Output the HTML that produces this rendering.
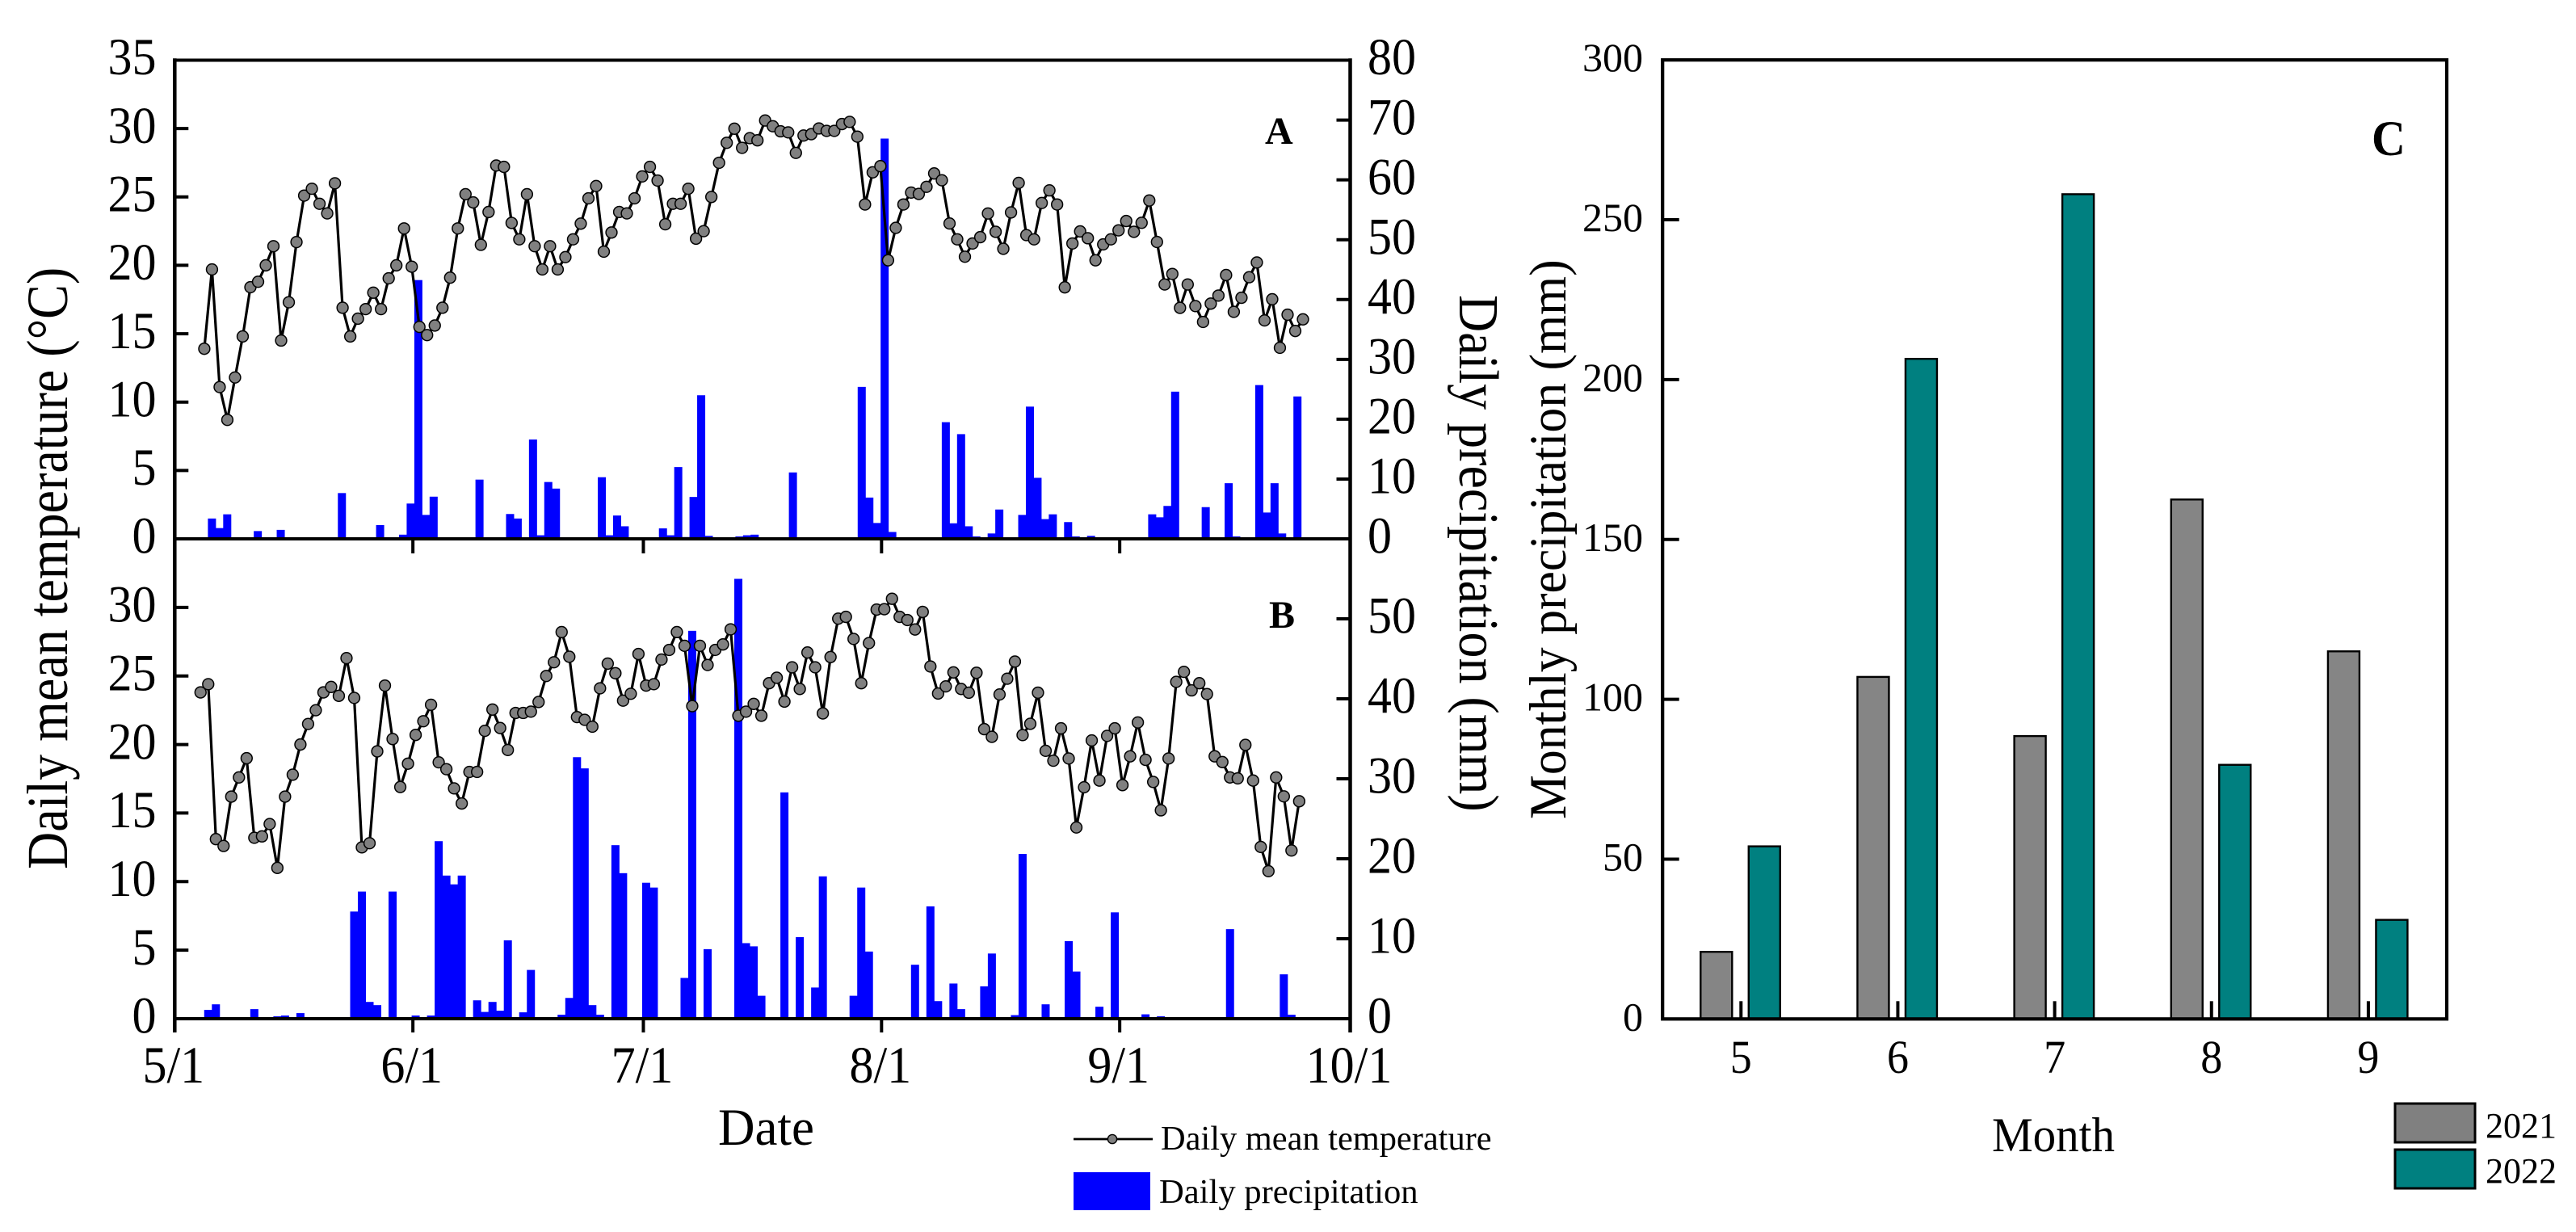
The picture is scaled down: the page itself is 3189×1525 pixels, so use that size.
<!DOCTYPE html>
<html lang="en">
<head>
<meta charset="utf-8">
<title>Daily temperature and precipitation</title>
<style>
html,body{margin:0;padding:0;background:#fff;}
svg{display:block;}
text{font-family:"Liberation Serif","Times New Roman",serif;fill:#000;}
</style>
</head>
<body>
<svg id="chart" xmlns="http://www.w3.org/2000/svg" width="3189" height="1525" viewBox="0 0 3189 1525">
  <rect x="0" y="0" width="3189" height="1525" fill="#ffffff"/>
  <g id="layer-bars"></g>
  <g id="layer-lines"></g>
  <g id="layer-axes"></g>
  <g id="layer-labels"></g>

  <text transform="translate(83,1076) rotate(-90) scale(1,1.12)" font-size="64">Daily mean temperature (°C)</text>
  <text transform="translate(1807,365) rotate(90) scale(1,1.1)" font-size="64">Daily precipitation (mm)</text>
  <text transform="translate(889,1417) scale(1,1.03)" font-size="63">Date</text>
  <text x="1566" y="178" font-size="48" font-weight="bold">A</text>
  <text x="1571" y="777" font-size="48" font-weight="bold">B</text>

  <line x1="1329" y1="1410" x2="1427" y2="1410" stroke="#000" stroke-width="2.8"/>
  <circle cx="1377" cy="1410" r="5.6" fill="#808080" stroke="#000" stroke-width="1.4"/>
  <text x="1437" y="1423" font-size="42.4">Daily mean temperature</text>
  <rect x="1329" y="1451" width="95" height="47" fill="#0000ff"/>
  <text x="1435" y="1489" font-size="42.6">Daily precipitation</text>

  <text transform="translate(1938,1014) rotate(-90) scale(1,1.05)" font-size="61.75">Monthly precipitation (mm)</text>
  <text transform="translate(2466,1425) scale(1,1.05)" font-size="57">Month</text>
  <text transform="translate(2936,192) scale(1,1.05)" font-size="58" font-weight="bold">C</text>

  <rect x="2965" y="1366" width="99" height="48" fill="#808080" stroke="#000" stroke-width="3"/>
  <text x="3077" y="1408" font-size="44">2021</text>
  <rect x="2965" y="1423" width="99" height="48" fill="#008080" stroke="#000" stroke-width="3"/>
  <text x="3077" y="1464" font-size="44">2022</text>
</svg>

<script>
// ---------- chart data ----------
const tempA = [13.9,19.7,11.1,8.7,11.8,14.8,18.4,18.8,20.0,21.4,14.5,17.3,21.7,25.1,25.6,24.5,23.8,26.0,16.9,14.8,16.1,16.8,18.0,16.8,19.05,20.0,22.7,19.9,15.5,14.9,15.6,16.9,19.1,22.7,25.2,24.6,21.5,23.9,27.3,27.2,23.1,21.9,25.2,21.4,19.7,21.4,19.7,20.6,21.9,23.05,24.9,25.8,21.0,22.4,23.9,23.8,24.9,26.5,27.2,26.2,23.0,24.5,24.5,25.6,21.95,22.5,25.0,27.5,28.96,29.99,28.59,29.3,29.14,30.59,30.17,29.8,29.72,28.22,29.49,29.59,30.01,29.83,29.83,30.33,30.49,29.41,24.45,26.8,27.25,20.37,22.74,24.45,25.32,25.22,25.74,26.72,26.22,23.06,21.9,20.63,21.6,22.06,23.79,22.45,21.21,23.87,26.03,22.21,21.9,24.56,25.48,24.45,18.39,21.6,22.48,21.98,20.37,21.53,21.9,22.56,23.24,22.45,23.11,24.74,21.71,18.6,19.37,16.89,18.6,17.02,15.86,17.2,17.79,19.29,16.6,17.63,19.13,20.21,15.97,17.52,13.97,16.39,15.2,16.05];
const rainDayIndexA = [1,2,3,7,10,18,23,26,27,28,29,30,36,40,41,43,44,45,46,52,53,54,55,60,61,62,63,64,65,66,70,71,72,77,86,87,88,89,90,97,98,99,100,101,103,104,107,108,109,110,111,113,114,116,124,125,126,127,131,134,135,138,139,140,141,143];
const rainA = [3.4,1.8,4.1,1.3,1.5,7.65,2.3,0.7,5.9,43.25,4.0,7.05,9.9,4.15,3.4,16.6,0.6,9.5,8.4,10.3,0.6,3.9,2.1,1.75,0.6,12.0,0.3,7.0,24.0,0.5,0.4,0.6,0.7,11.1,25.4,6.9,2.65,66.9,1.15,19.5,2.6,17.5,2.1,0.4,0.9,4.9,4.0,22.1,10.2,3.3,4.1,2.8,0.4,0.5,4.1,3.6,5.5,24.6,5.3,9.3,0.4,25.7,4.4,9.3,0.9,23.8];

const tempB = [23.8,24.4,13.1,12.6,16.2,17.6,19.0,13.2,13.3,14.2,11.0,16.2,17.8,20.0,21.5,22.5,23.8,24.2,23.55,26.3,23.4,12.5,12.8,19.5,24.3,20.4,16.9,18.6,20.7,21.7,22.9,18.7,18.2,16.8,15.7,18.0,18.0,21.0,22.55,21.2,19.6,22.3,22.3,22.4,23.1,25.0,26.0,28.2,26.4,22.0,21.8,21.3,24.1,25.9,25.2,23.2,23.7,26.6,24.3,24.4,26.2,26.9,28.2,27.2,22.8,27.2,25.8,26.9,27.3,28.4,22.1,22.4,22.96,22.1,24.47,24.87,23.13,25.63,24.05,26.71,25.63,22.27,26.38,29.18,29.31,27.7,24.47,27.4,29.84,29.87,30.63,29.31,29.08,28.39,29.67,25.69,23.72,24.24,25.26,24.05,23.78,25.23,21.12,20.56,23.65,24.8,26.05,20.69,21.51,23.78,19.54,18.82,21.18,18.98,13.95,16.88,20.3,17.37,20.63,21.18,17.04,19.14,21.61,18.88,17.27,15.2,18.98,24.57,25.3,23.95,24.47,23.68,19.14,18.72,17.6,17.53,19.97,17.37,12.53,10.76,17.6,16.22,12.27,15.86];
const rainDayIndexB = [1,2,7,8,10,11,13,20,21,22,23,25,28,30,31,32,33,34,35,36,37,38,39,40,42,43,47,48,49,50,51,52,53,54,55,56,58,59,63,64,66,70,71,72,73,76,78,80,81,85,86,87,93,95,96,98,99,102,103,104,106,107,110,113,114,117,119,120,123,125,134,141,142];
const rainB = [1.1,1.8,1.2,0.2,0.3,0.4,0.7,13.4,15.9,2.1,1.7,15.9,0.4,0.4,22.2,17.9,16.8,17.9,0.2,2.3,0.85,2.1,1.0,9.8,0.8,6.1,0.5,2.6,32.7,31.3,1.7,0.5,0.15,21.7,18.2,0.1,17.0,16.4,5.1,48.5,8.7,55.0,9.45,9.05,2.87,28.3,10.2,3.9,17.8,2.87,16.4,8.4,6.75,14.05,2.2,4.4,1.2,4.05,8.15,0.2,0.45,20.6,1.8,9.7,5.9,1.5,13.3,0.2,0.55,0.3,11.2,5.55,0.5];

const dateTickDays = [0,31,61,92,123,153];
const dateTickLabels = ['5/1','6/1','7/1','8/1','9/1','10/1'];
const tempTicksA = [0,5,10,15,20,25,30,35];
const rainTicksA = [0,10,20,30,40,50,60,70,80];
const tempTicksB = [0,5,10,15,20,25,30];
const rainTicksB = [0,10,20,30,40,50];

const months = [5,6,7,8,9];
const monthly2021 = [21,107,88.5,162.5,115];
const monthly2022 = [54,206.5,258,79.5,31];
const monthlyTicks = [0,50,100,150,200,250,300];

// ---------- scales ----------
const svgNS = 'http://www.w3.org/2000/svg';
const L = 216.3, R = 1671.5, TOP = 74.5, A0 = 667, B0 = 1261, BEND = 1278;
const dateX = d => L + d * (R - L) / 153;
const yTempA = v => A0 - v * (A0 - TOP) / 35;
const yRainA = v => A0 - v * (A0 - TOP) / 80;
const yTempB = v => B0 - v * (B0 - A0) / 35;
const yRainB = v => B0 - v * (B0 - A0) / 60;
const CL = 2058.2, CR = 3029, C0 = 1261.3, CT = 74.2;
const monthX = m => CL + (m - 4.5) * (CR - CL) / 5;
const yMonthly = v => C0 - v * (C0 - CT) / 300;

const layerBars = document.getElementById('layer-bars');
const layerLines = document.getElementById('layer-lines');
const layerAxes = document.getElementById('layer-axes');
const layerLabels = document.getElementById('layer-labels');

function mk(tag, parent, attrs) {
  const e = document.createElementNS(svgNS, tag);
  for (const k in attrs) e.setAttribute(k, attrs[k]);
  parent.appendChild(e);
  return e;
}

// ---------- daily bars ----------
function dailyBars(days, vals, dayFn, yFn, y0) {
  days.forEach((d, i) => {
    const x = dateX(dayFn(d));
    const el = mk('rect', layerBars, {x: x - 5, y: yFn(vals[i]), width: 10, height: y0 - yFn(vals[i]), fill: '#0000ff'});
    
    
  });
}
dailyBars(rainDayIndexA, rainA, i => 3.85 + i * 0.995, yRainA, A0);
dailyBars(rainDayIndexB, rainB, i => 3.36 + i, yRainB, B0);

// ---------- temperature lines ----------
function tempSeries(vals, start, yFn, name) {
  const pts = vals.map((v, i) => dateX(start + i).toFixed(1) + ',' + yFn(v).toFixed(1)).join(' ');
  const line = mk('polyline', layerLines, {points: pts, fill: 'none', stroke: '#000', 'stroke-width': 3.2, 'stroke-linejoin': 'round'});
  
  
  vals.forEach((v, i) => {
    const c = mk('circle', layerLines, {cx: dateX(start + i), cy: yFn(v), r: 6.9, fill: '#808080', stroke: '#000', 'stroke-width': 1.5});
    
    
  });
}
tempSeries(tempA, 3.85, yTempA, 'temperature-a');
tempSeries(tempB, 3.36, yTempB, 'temperature-b');

// ---------- monthly bars ----------
months.forEach((m, i) => {
  const c = monthX(m);
  const a = mk('rect', layerBars, {x: c - 50, y: yMonthly(monthly2021[i]), width: 39, height: C0 - yMonthly(monthly2021[i]), fill: '#858585', stroke: '#000', 'stroke-width': 2.4});
  
  
  const b = mk('rect', layerBars, {x: c + 9.5, y: yMonthly(monthly2022[i]), width: 39, height: C0 - yMonthly(monthly2022[i]), fill: '#008080', stroke: '#000', 'stroke-width': 2.4});
  
  
});

// ---------- axes ----------
function axisLine(x1, y1, x2, y2, name, w) {
  const l = mk('line', layerAxes, {x1, y1, x2, y2, stroke: '#000', 'stroke-width': w || 4.5});
  
  
}
function label(x, y, size, anchor, str, name, sy) {
  const t = mk('text', layerLabels, {transform: 'translate(' + x + ',' + y + ') scale(1,' + sy + ')', 'font-size': size, 'text-anchor': anchor});
  t.textContent = str;
  
  
}

axisLine(L, TOP - 2.25, L, BEND, 'left-axis-line');
axisLine(R, TOP - 2.25, R, BEND, 'right-axis-line');
axisLine(L, TOP, R, TOP, 'top-axis-line', 4);
axisLine(L, A0, R, A0, 'panel-a-baseline', 4);
axisLine(L, B0, R, B0, 'panel-b-baseline', 4);

dateTickDays.forEach((d, i) => {
  const x = dateX(d);
  axisLine(x, A0, x, A0 + 18, 'panel-a-x-tick', 4);
  axisLine(x, B0, x, BEND, 'panel-b-x-tick', 4);
  label(x - 1.5, 1340, 60, 'middle', dateTickLabels[i], 'x-tick-label', 1.07);
});
function yTicks(ticks, yFn, side, name, skip) {
  ticks.forEach(v => {
    const y = yFn(v);
    if (!skip.includes(v)) {
      if (side === 'left') axisLine(L, y, L + 17, y, name + '-tick', 4);
      else axisLine(R, y, R - 17, y, name + '-tick', 4);
    }
    if (side === 'left') label(193.5, y + 17.7, 60, 'end', String(v), name + '-label', 1.07);
    else label(1693, y + 17.7, 60, 'start', String(v), name + '-label', 1.07);
  });
}
yTicks(tempTicksA, yTempA, 'left', 'temperature-a-axis', [0, 35]);
yTicks(rainTicksA, yRainA, 'right', 'precipitation-a-axis', [0, 80]);
yTicks(tempTicksB, yTempB, 'left', 'temperature-b-axis', [0]);
yTicks(rainTicksB, yRainB, 'right', 'precipitation-b-axis', [0]);

// panel C frame, ticks
const frame = mk('rect', layerAxes, {x: CL, y: CT, width: CR - CL, height: C0 - CT, fill: 'none', stroke: '#000', 'stroke-width': 4.2});


monthlyTicks.forEach(v => {
  const y = yMonthly(v);
  if (v > 0 && v < 300) axisLine(CL, y, CL + 20.5, y, 'monthly-y-tick', 4);
  label(2034, y + 14, 50, 'end', String(v), 'monthly-y-tick-label', 1.0);
});
months.forEach(m => {
  const x = monthX(m);
  axisLine(x, C0, x, C0 - 22, 'monthly-x-tick', 4);
  label(x, 1328, 54, 'middle', String(m), 'monthly-x-tick-label', 1.08);
});
</script>
</body>
</html>
